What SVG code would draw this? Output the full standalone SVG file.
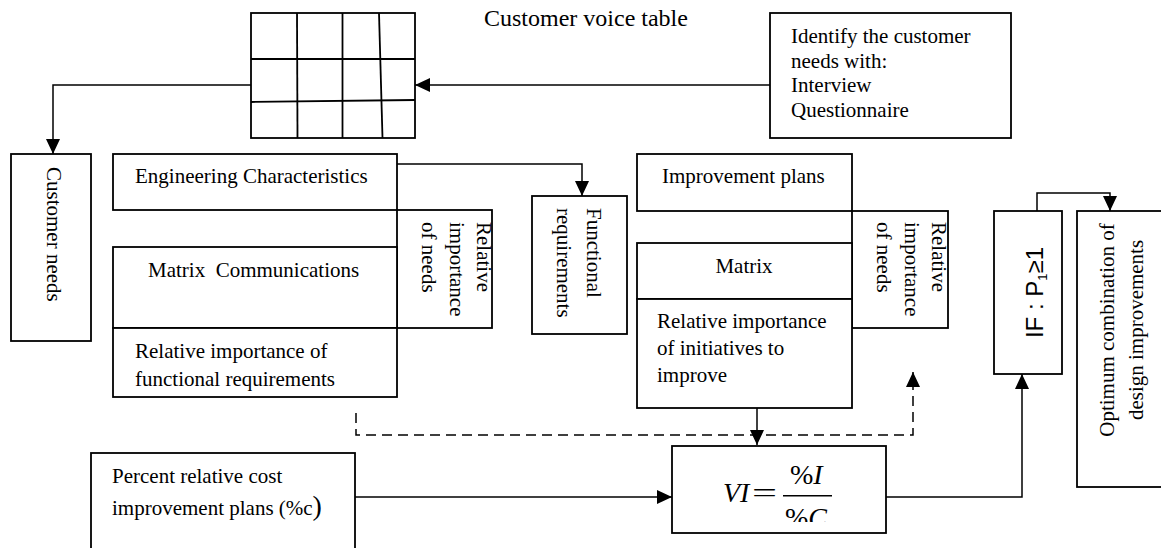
<svg xmlns="http://www.w3.org/2000/svg" width="1161" height="548" viewBox="0 0 1161 548">
  <style>
    .box { fill: #ffffff; stroke: #000000; stroke-width: 1.8; }
    .grid { fill: none; stroke: #000000; stroke-width: 1.8; }
    .t { font-family: "Liberation Serif", "Times New Roman", serif; font-size: 21px; fill: #000000; }
    .big { font-size: 24px; }
    .sans { font-family: "Liberation Sans", Arial, sans-serif; font-size: 24px; fill: #000000; }
    .math { font-family: "Liberation Serif", "Times New Roman", serif; font-size: 28px; fill: #000000; }
    .link { fill: none; stroke: #000000; stroke-width: 1.5; }
    .dash { stroke-dasharray: 10 6; }
  </style>
  <defs>
    <marker id="arrow" markerUnits="userSpaceOnUse" markerWidth="15" markerHeight="14" refX="15" refY="7" orient="auto">
      <path d="M0,0 L15,7 L0,14 Z" fill="#000000"/>
    </marker>
    <clipPath id="denomClip">
      <rect x="770" y="500" width="80" height="22"/>
    </clipPath>
  </defs>

  <rect width="1161" height="548" fill="#ffffff"/>

  <!-- caption above the voice table -->
  <text class="t big" x="484" y="26">Customer voice table</text>

  <!-- customer voice table: 4 x 3 hand-drawn grid -->
  <g id="voice-table">
    <rect class="grid" x="251" y="13" width="164" height="125"/>
    <line class="grid" x1="251" y1="59" x2="415" y2="59"/>
    <line class="grid" x1="251" y1="102" x2="415" y2="100"/>
    <line class="grid" x1="297" y1="13" x2="297.5" y2="138"/>
    <line class="grid" x1="342.5" y1="13" x2="342.5" y2="138"/>
    <line class="grid" x1="379" y1="13" x2="382.5" y2="138"/>
  </g>

  <g id="identify-needs">
    <rect class="box" x="770" y="13" width="241" height="125"/>
    <text class="t" x="791" y="43">Identify the customer</text>
    <text class="t" x="791" y="68">needs with:</text>
    <text class="t" x="791" y="92">Interview</text>
    <text class="t" x="791" y="117">Questionnaire</text>
  </g>

  <g id="customer-needs">
    <rect class="box" x="11" y="154" width="80" height="187"/>
    <text class="t" font-size="23.5" transform="translate(47,167) rotate(90)">Customer needs</text>
  </g>

  <g id="engineering-characteristics">
    <rect class="box" x="113" y="154" width="284" height="56"/>
    <text class="t" x="135" y="183">Engineering Characteristics</text>
  </g>

  <g id="needs-importance-left">
    <rect class="box" x="397" y="210" width="95" height="118"/>
    <text class="t" transform="translate(477,222) rotate(90)">Relative</text>
    <text class="t" transform="translate(449.5,222) rotate(90)">importance</text>
    <text class="t" transform="translate(422,222) rotate(90)">of needs</text>
  </g>

  <g id="matrix-communications">
    <rect class="box" x="113" y="247" width="284" height="81"/>
    <text class="t" x="148" y="277" style="white-space:pre">Matrix  Communications</text>
  </g>

  <g id="functional-importance">
    <rect class="box" x="113" y="328" width="284" height="69"/>
    <text class="t" x="135" y="358">Relative importance of</text>
    <text class="t" x="135" y="386">functional requirements</text>
  </g>

  <g id="functional-requirements">
    <rect class="box" x="532" y="196" width="95" height="138"/>
    <text class="t" transform="translate(587,208) rotate(90)">Functional</text>
    <text class="t" transform="translate(557,208) rotate(90)">requirements</text>
  </g>

  <g id="improvement-plans">
    <rect class="box" x="637" y="154" width="215" height="57"/>
    <text class="t" x="662" y="183">Improvement plans</text>
  </g>

  <g id="needs-importance-right">
    <rect class="box" x="852" y="211" width="96" height="117"/>
    <text class="t" transform="translate(932,222) rotate(90)">Relative</text>
    <text class="t" transform="translate(904.5,222) rotate(90)">importance</text>
    <text class="t" transform="translate(877,222) rotate(90)">of needs</text>
  </g>

  <g id="matrix">
    <rect class="box" x="637" y="243" width="215" height="56"/>
    <text class="t" x="744" y="273" text-anchor="middle">Matrix</text>
  </g>

  <g id="initiative-importance">
    <rect class="box" x="637" y="299" width="215" height="109"/>
    <text class="t" x="657" y="328">Relative importance</text>
    <text class="t" x="657" y="355">of initiatives to</text>
    <text class="t" x="657" y="382">improve</text>
  </g>

  <g id="cost-percent">
    <rect class="box" x="91" y="453" width="264" height="110"/>
    <text class="t" x="112" y="483">Percent relative cost</text>
    <text class="t" x="112" y="515">improvement plans (%c<tspan font-size="28">)</tspan></text>
  </g>

  <g id="value-index">
    <rect class="box" x="672" y="446" width="214" height="87"/>
    <text class="math" x="723" y="502" font-style="italic">VI</text>
    <text class="math" x="752" y="502" textLength="25" lengthAdjust="spacingAndGlyphs">=</text>
    <line x1="783" y1="495.7" x2="832" y2="495.7" stroke="#000000" stroke-width="1.5"/>
    <text class="math" x="790" y="484">%<tspan font-style="italic">I</tspan></text>
    <text class="math" x="785" y="527" clip-path="url(#denomClip)">%<tspan font-style="italic">C</tspan></text>
  </g>

  <g id="condition">
    <rect class="box" x="994" y="211" width="68" height="163"/>
    <text class="sans" transform="translate(1043,292.5) rotate(-90)" text-anchor="middle">IF : P<tspan font-size="13" dy="4">1</tspan><tspan dy="-4">≥1</tspan></text>
  </g>

  <g id="optimum-combination">
    <rect class="box" x="1077" y="211" width="90" height="276"/>
    <text class="t" transform="translate(1114,330) rotate(-90)" text-anchor="middle">Optimum combination of</text>
    <text class="t" transform="translate(1143,330) rotate(-90)" text-anchor="middle">design improvements</text>
  </g>

  <g id="connectors">
    <path class="link" d="M770,85 H415" marker-end="url(#arrow)"/>
    <path class="link" d="M251,85 H53 V154" marker-end="url(#arrow)"/>
    <path class="link" d="M397,164 H582 V196" marker-end="url(#arrow)"/>
    <path class="link" d="M1037,211 V193 H1110 V211" marker-end="url(#arrow)"/>
    <path class="link" d="M757,408 V445" marker-end="url(#arrow)"/>
    <path class="link dash" d="M356,413 V435 H913 V372" marker-end="url(#arrow)"/>
    <path class="link" d="M355,497 H672" marker-end="url(#arrow)"/>
    <path class="link" d="M886,497 H1022 V374" marker-end="url(#arrow)"/>
  </g>
</svg>
